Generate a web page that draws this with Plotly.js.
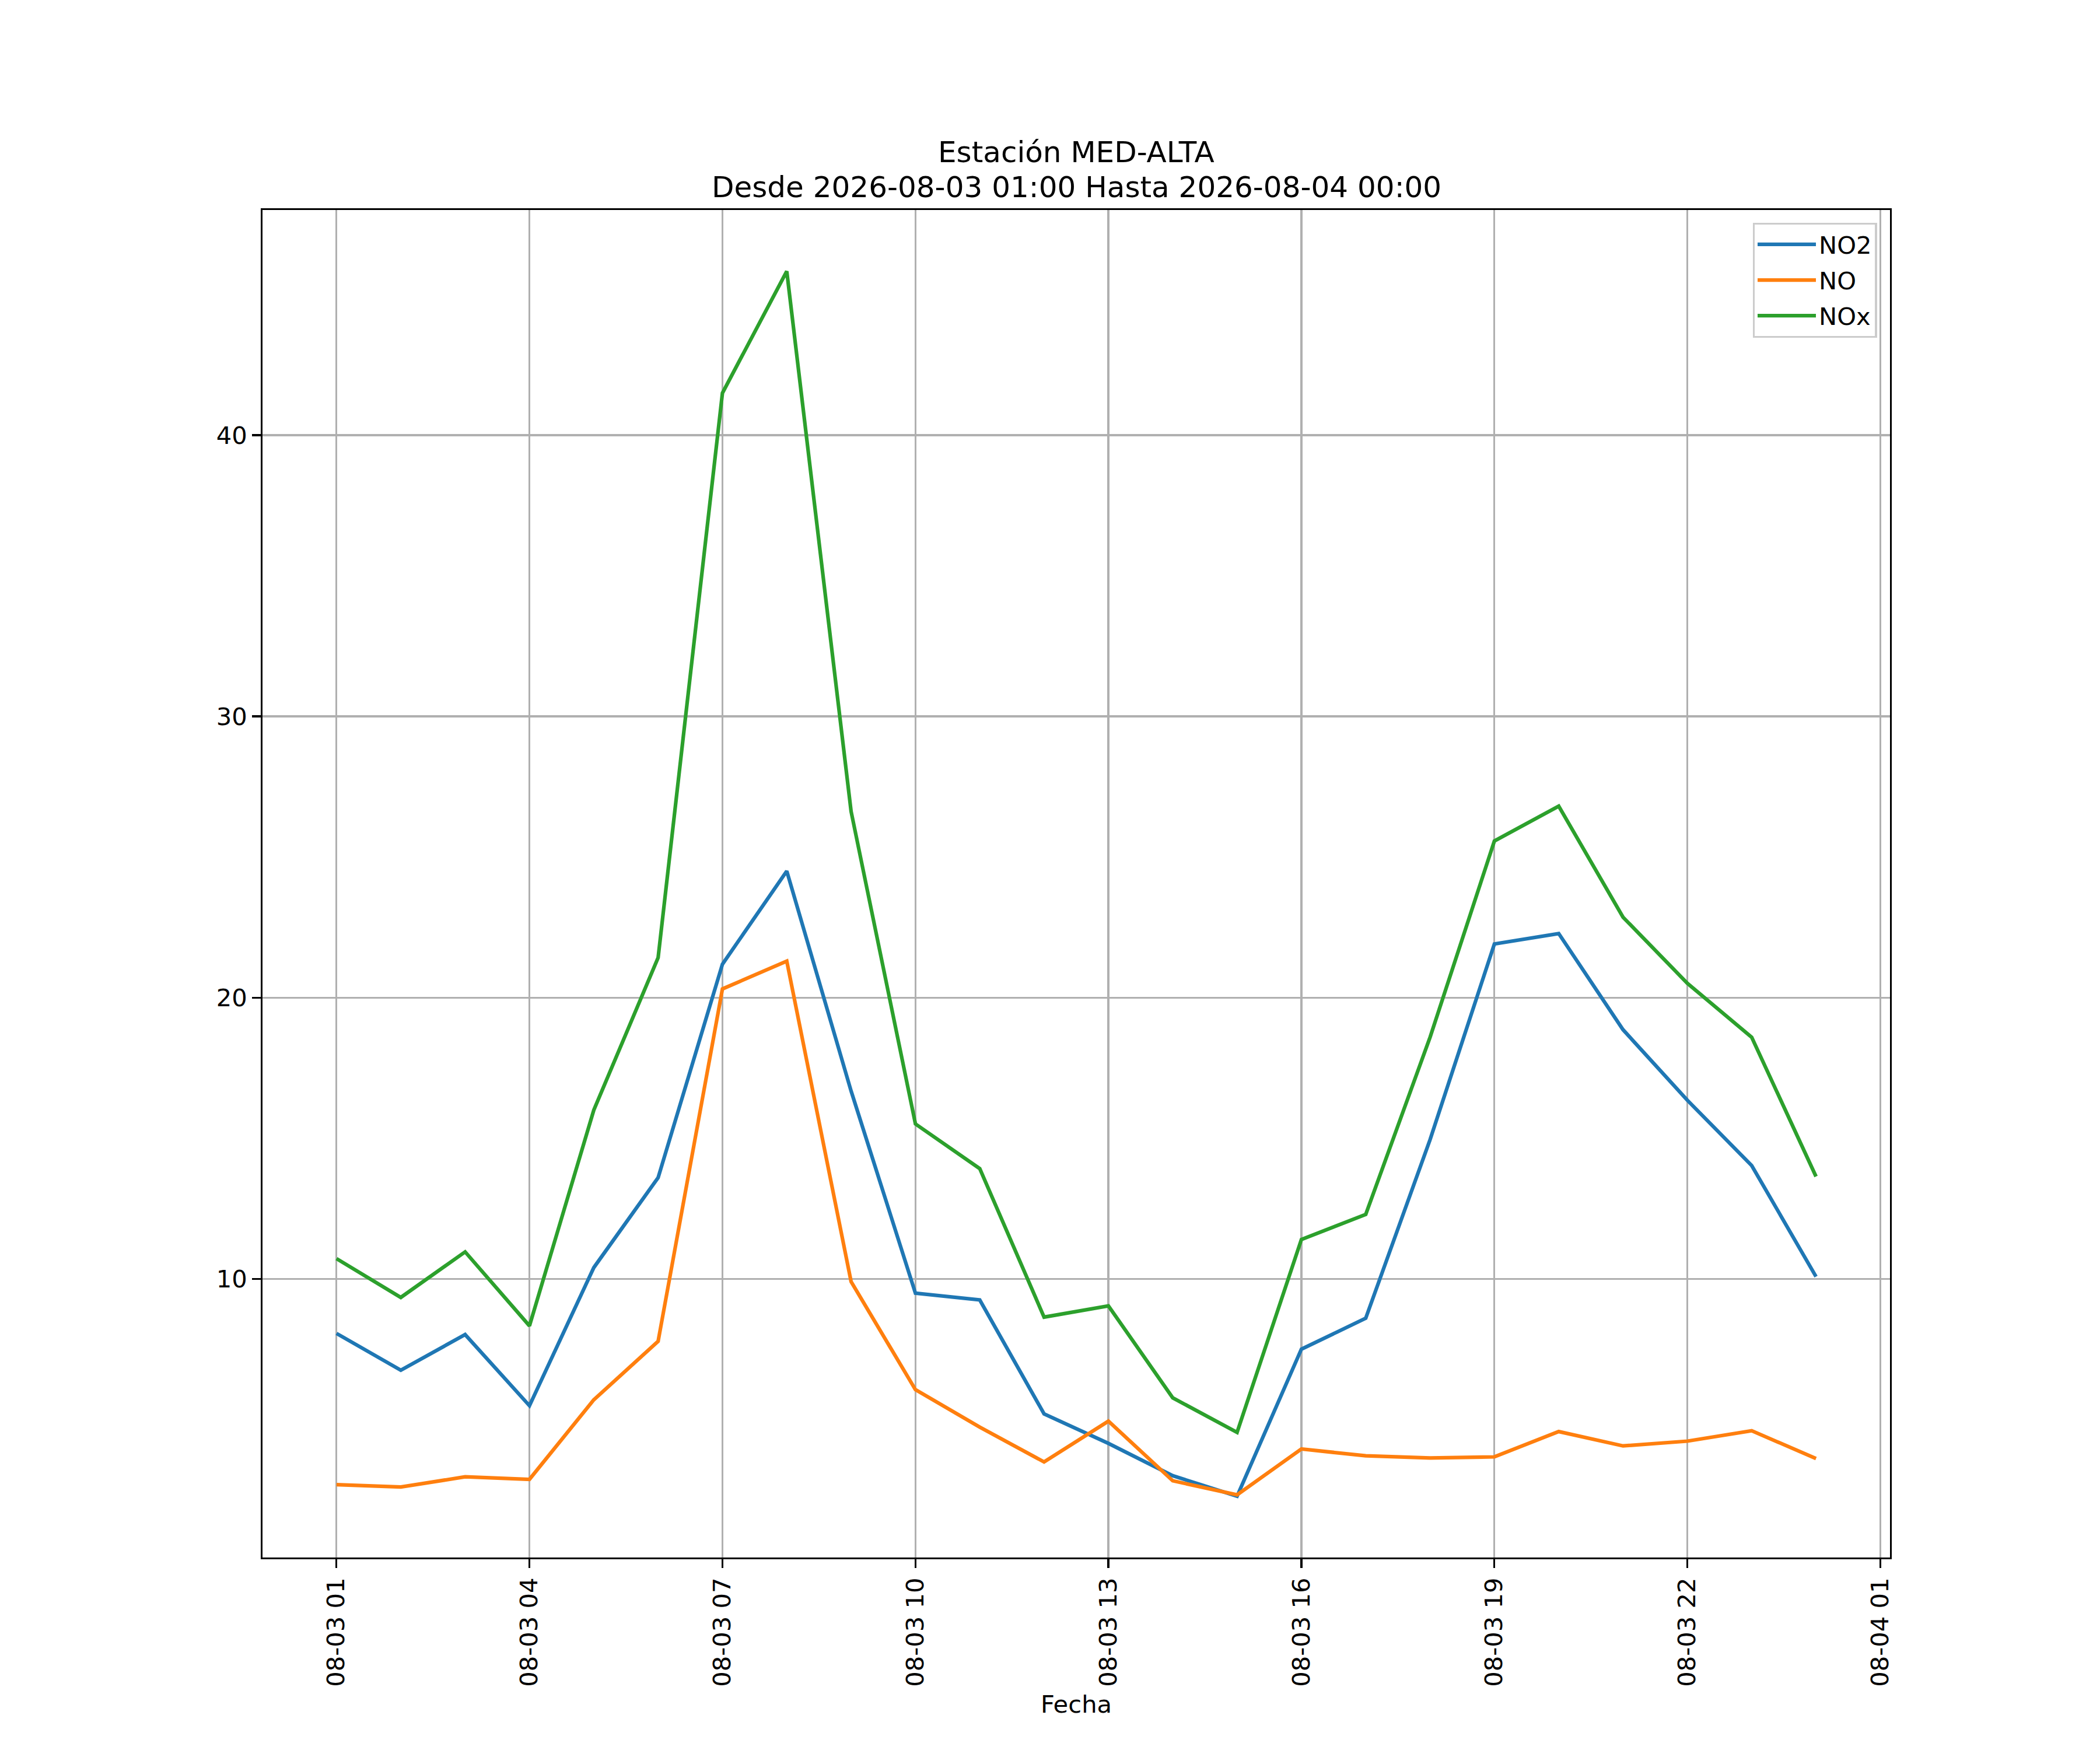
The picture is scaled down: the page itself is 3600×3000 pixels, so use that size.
<!DOCTYPE html>
<html>
<head>
<meta charset="utf-8">
<script src="https://cdn.plot.ly/plotly-3.0.1.min.js"></script>
<style>
  body { margin: 0; background: #fff; }
  #chart { width: 3600px; height: 3000px; }
</style>
</head>
<body>
<div id="chart"></div>
<script>
// hourly readings, Estación MED-ALTA
const horas = [
    '2026-08-03 01:00', '2026-08-03 02:00', '2026-08-03 03:00', '2026-08-03 04:00',
    '2026-08-03 05:00', '2026-08-03 06:00', '2026-08-03 07:00', '2026-08-03 08:00',
    '2026-08-03 09:00', '2026-08-03 10:00', '2026-08-03 11:00', '2026-08-03 12:00',
    '2026-08-03 13:00', '2026-08-03 14:00', '2026-08-03 15:00', '2026-08-03 16:00',
    '2026-08-03 17:00', '2026-08-03 18:00', '2026-08-03 19:00', '2026-08-03 20:00',
    '2026-08-03 21:00', '2026-08-03 22:00', '2026-08-03 23:00', '2026-08-04 00:00'
];
const no2 = [8.06, 6.75, 8.02, 5.49, 10.40, 13.60, 21.19, 24.50, 16.68, 9.49, 9.25, 5.20,
             4.15, 3.00, 2.27, 7.50, 8.60, 14.95, 21.91, 22.28, 18.86, 16.35, 14.03, 10.08];
const no  = [2.68, 2.60, 2.96, 2.87, 5.70, 7.78, 20.31, 21.30, 9.90, 6.06, 4.73, 3.49,
             4.94, 2.82, 2.32, 3.95, 3.71, 3.63, 3.67, 4.57, 4.06, 4.23, 4.60, 3.61];
const nox = [10.72, 9.34, 10.96, 8.33, 16.00, 21.42, 41.50, 45.83, 26.62, 15.51, 13.92, 8.64,
             9.04, 5.77, 4.54, 11.40, 12.29, 18.59, 25.57, 26.81, 22.86, 20.51, 18.59, 13.64];
const yTicks = [10, 20, 30, 40];
const titulo = ['Estación MED-ALTA', 'Desde 2026-08-03 01:00 Hasta 2026-08-04 00:00'];

const pt = 300 / 72;  // figure was 12x10 in at 300 dpi
const FONT = 'DejaVu Sans, Liberation Sans, sans-serif';
const plotH = 3000 - 360 - 330;

// matplotlib style 5% padding on both axes
function toMs(s) { return Date.parse(s.replace(' ', 'T') + ':00Z'); }
const t0 = toMs(horas[0]), t1 = toMs(horas[horas.length - 1]);
const xPad = 0.05 * (t1 - t0);
const allY = no2.concat(no, nox);
const yMin = Math.min(...allY), yMax = Math.max(...allY);
const yPad = 0.05 * (yMax - yMin);

function serie(name, y, color) {
    return {
        x: horas, y: y, name: name, legendgroup: name, type: 'scatter', mode: 'lines',
        line: { color: color, width: 1.5 * pt }
    };
}

const traces = [
    serie('NO2', no2, '#1f77b4'),
    serie('NO', no, '#ff7f0e'),
    serie('NOx', nox, '#2ca02c')
];

const axisCommon = {
    showline: true, mirror: true, linecolor: '#000', linewidth: 0.8 * pt,
    showgrid: true, gridcolor: '#b0b0b0', gridwidth: 0.8 * pt,
    zeroline: false,
    ticks: 'outside', ticklen: 3.5 * pt, tickwidth: 0.8 * pt, tickcolor: '#000',
    ticklabelstandoff: 3.5 * pt,
    tickfont: { family: FONT, size: 10 * pt, color: '#000' },
    automargin: false
};

// two title lines as annotations, centred over the axes
const titleNotes = titulo.map((txt, i) => ({
    text: txt, showarrow: false,
    xref: 'paper', x: 0.5, xanchor: 'center',
    yref: 'paper', y: 1 + (i === 0 ? 99 : 39) / plotH, yanchor: 'middle',
    font: { family: FONT, size: 12 * pt, color: '#000' }
}));

const layout = {
    width: 3600, height: 3000,
    paper_bgcolor: '#fff', plot_bgcolor: '#fff',
    margin: { l: 450, r: 360, t: 360, b: 330, pad: 0 },
    font: { family: FONT, color: '#000' },
    annotations: titleNotes,
    xaxis: Object.assign({}, axisCommon, {
        type: 'date',
        range: [t0 - xPad, t1 + xPad],
        tick0: horas[0], dtick: 3 * 3600 * 1000,
        tickformat: '%m-%d %H',
        tickangle: -90,
        title: { text: 'Fecha', font: { family: FONT, size: 10 * pt, color: '#000' }, standoff: 4 * pt }
    }),
    yaxis: Object.assign({}, axisCommon, {
        range: [yMin - yPad, yMax + yPad],
        tickmode: 'array', tickvals: yTicks, ticktext: yTicks.map(String)
    }),
    showlegend: true,
    legend: {
        x: 0.992, xanchor: 'right', y: 0.9905, yanchor: 'top',
        bgcolor: 'rgba(255,255,255,0.8)', bordercolor: '#cccccc', borderwidth: 0.8 * pt,
        font: { family: FONT, size: 10 * pt, color: '#000' },
        itemwidth: 100, tracegroupgap: 4, entrywidth: 150
    }
};

Plotly.newPlot('chart', traces, layout, { displayModeBar: false, staticPlot: true });
</script>
</body>
</html>
